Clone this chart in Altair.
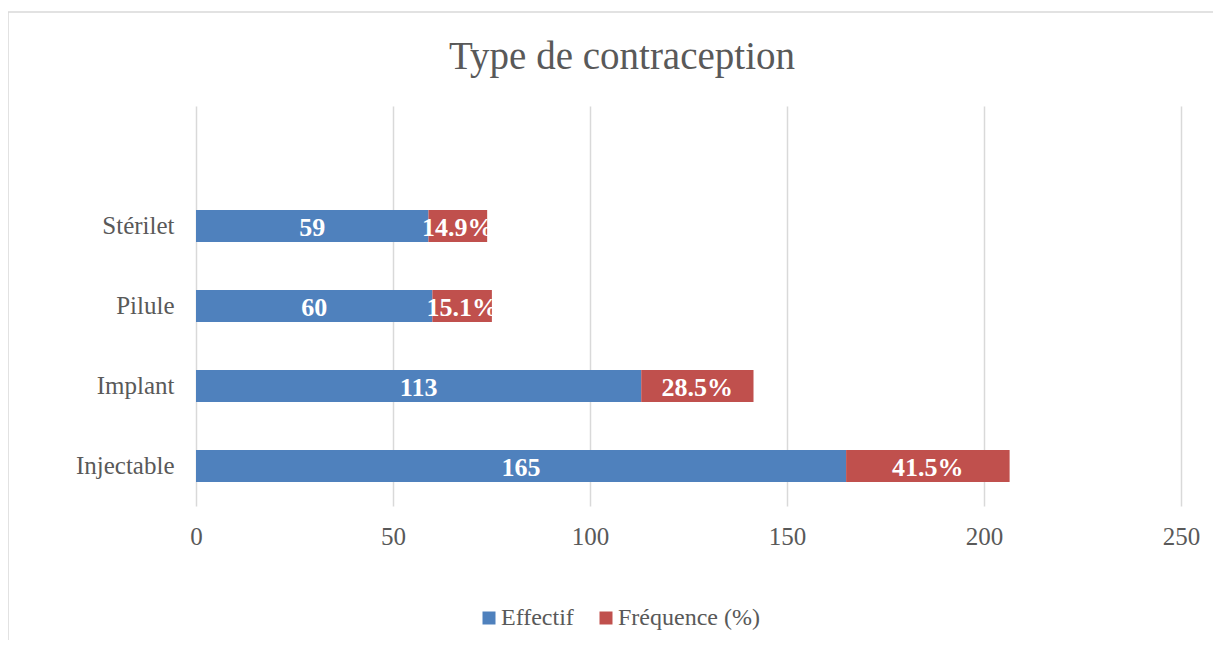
import altair as alt
import pandas as pd

categories = ["Stérilet", "Pilule", "Implant", "Injectable"]
effectif = [59, 60, 113, 165]
frequence = [14.9, 15.1, 28.5, 41.5]
series = ["Effectif", "Fréquence (%)"]
colors = ["#4F81BD", "#C0504D"]
x_ticks = [0, 50, 100, 150, 200, 250]
title_text = "Type de contraception"

rows = []
for c, e, f in zip(categories, effectif, frequence):
    rows.append({"categorie": c, "serie": series[0], "valeur": e, "ordre": 0, "label": f"{e}"})
    rows.append({"categorie": c, "serie": series[1], "valeur": f, "ordre": 1, "label": f"{f:.1f}%"})
df = pd.DataFrame(rows)

y_domain = [" "] + categories
FONT = "Liberation Serif"

base = alt.Chart(df).transform_stack(
    stack="valeur", groupby=["categorie"], as_=["v0", "v1"],
    sort=[alt.SortField("ordre", order="ascending")]
).transform_calculate(mid="(datum.v0 + datum.v1) / 2")

y_scale = alt.Scale(domain=y_domain, paddingInner=0.6, paddingOuter=0.3)
y_enc = alt.Y("categorie:N", scale=y_scale,
              axis=alt.Axis(title=None, ticks=False, domain=False, labelPadding=22,
                            labelFont=FONT, labelFontSize=25, labelColor="#595959", grid=False))

bars = base.mark_bar().encode(
    x=alt.X("v0:Q", scale=alt.Scale(domain=[0, 250], nice=False),
            axis=alt.Axis(title=None, values=x_ticks, ticks=False, domain=False, labelPadding=18,
                          labelFlush=False,
                          labelFont=FONT, labelFontSize=25, labelColor="#595959",
                          grid=True, gridColor="#d9d9d9", gridWidth=1.5)),
    x2="v1:Q",
    y=y_enc,
    color=alt.Color("serie:N", scale=alt.Scale(domain=series, range=colors),
                    legend=alt.Legend(title=None, orient="none", legendX=281, legendY=500,
                                      direction="horizontal", symbolType="square", symbolSize=169,
                                      symbolStrokeWidth=0, labelFont=FONT, labelFontSize=24,
                                      labelColor="#595959", labelOffset=0, columnPadding=20)),
)

labels = base.mark_text(font=FONT, fontSize=26, fontWeight="bold", color="white",
                        align="center", baseline="middle", dy=2).encode(
    x="mid:Q",
    y=alt.Y("categorie:N", scale=y_scale),
    text="label:N",
)

frame_df = pd.DataFrame({"k": [0]})
top_border = alt.Chart(frame_df).mark_rule(color="#d9d9d9", strokeWidth=1.5).encode(
    x=alt.value(-188), x2=alt.value(1020), y=alt.value(-94))
left_border = alt.Chart(frame_df).mark_rule(color="#d9d9d9", strokeWidth=1.5).encode(
    x=alt.value(-188), y=alt.value(-94), y2=alt.value(540))

title_df = pd.DataFrame({"t": [title_text]})
title = alt.Chart(title_df).mark_text(font=FONT, fontSize=39, color="#595959",
                                      align="center", baseline="alphabetic").encode(
    x=alt.value(426), y=alt.value(-37), text="t:N")

chart = alt.layer(top_border, left_border, bars, labels, title).properties(
    width=985, height=400,
    autosize=alt.AutoSizeParams(type="none"),
    padding={"left": 188, "top": 98, "right": 32, "bottom": 134},
    background="white",
).configure_view(stroke=None)

chart.save("out.html", embed_options={"renderer": "svg", "actions": False})
